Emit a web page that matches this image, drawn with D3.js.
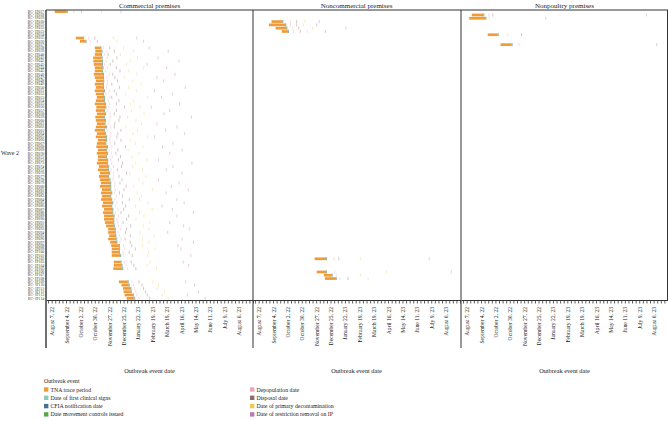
<!DOCTYPE html>
<html>
<head>
<meta charset="utf-8">
<script src="https://cdn.jsdelivr.net/npm/d3@7"></script>
<style>
  body { margin: 0; background: #fff; }
  svg { display: block; }
  text { font-family: "Liberation Serif", "DejaVu Serif", serif; fill: #222; }
</style>
</head>
<body>
<script>
// facets
var panels = ["Commercial premises", "Noncommercial premises", "Nonpoultry premises"];
var panelCodes = ["C", "NC", "NP"];

var premisesId = [
  "BC- IP027","BC- IP028","BC- IP029","BC- IP030","BC- IP031","BC- IP032","BC- IP033","BC- IP034",
  "BC- IP035","BC- IP036","BC- IP037","BC- IP038","BC- IP039","BC- IP040","BC- IP041","BC- IP042",
  "BC- IP043","BC- IP044","BC- IP045","BC- IP046","BC- IP047","BC- IP048","BC- IP049","BC- IP050",
  "BC- IP051","BC- IP052","BC- IP053","BC- IP054","BC- IP055","BC- IP056","BC- IP057","BC- IP058",
  "BC- IP059","BC- IP060","BC- IP061","BC- IP062","BC- IP063","BC- IP064","BC- IP065","BC- IP066",
  "BC- IP067","BC- IP068","BC- IP069","BC- IP070","BC- IP071","BC- IP072","BC- IP073","BC- IP074",
  "BC- IP075","BC- IP076","BC- IP077","BC- IP078","BC- IP079","BC- IP080","BC- IP081","BC- IP082",
  "BC- IP083","BC- IP084","BC- IP085","BC- IP086","BC- IP087","BC- IP088","BC- IP089","BC- IP090",
  "BC- IP091","BC- IP092","BC- IP093","BC- IP094","BC- IP095","BC- IP096","BC- IP097","BC- IP098",
  "BC- IP099","BC- IP100","BC- IP101","BC- IP102","BC- IP103","BC- IP104","BC- IP105","BC- IP106",
  "BC- IP107","BC- IP108","BC- IP109","BC- IP110","BC- IP111","BC- IP112","BC- IP113","BC- IP114"
];

var premisesType = [
  "C","NP","NP","NC","NC","NC","NC","NP","C","C","NP",
  "C","C","C","C","C","C","C","C","C","C","C","C","C","C","C","C",
  "C","C","C","C","C","C","C","C","C","C","C","C","C","C","C","C",
  "C","C","C","C","C","C","C","C","C","C","C","C","C","C","C","C",
  "C","C","C","C","C","C","C","C","C","C","C","C","C","C","C","C",
  "NC","C","C","C","NC","NC","NC","C","C","C","C","C","C"
];

var tnaStart = [
  "2022-08-13","2022-08-17","2022-08-12","2022-09-01","2022-08-27","2022-09-09","2022-09-21","2022-09-17",
  "2022-09-23","2022-10-01","2022-10-12",
  "2022-10-30","2022-10-31","2022-10-30","2022-10-27","2022-10-27","2022-10-28","2022-10-30","2022-10-30",
  "2022-10-28","2022-10-30","2022-11-01","2022-10-30","2022-11-01","2022-10-30","2022-11-01","2022-11-03",
  "2022-11-01","2022-10-30","2022-11-02","2022-11-01","2022-11-03","2022-10-31","2022-11-01","2022-11-03",
  "2022-11-01","2022-10-30","2022-11-03","2022-11-01","2022-11-05","2022-11-03","2022-11-02","2022-11-05",
  "2022-11-03","2022-11-05","2022-11-05","2022-11-03","2022-11-07","2022-11-05","2022-11-09","2022-11-07",
  "2022-11-09","2022-11-11","2022-11-09","2022-11-13","2022-11-11","2022-11-13","2022-11-11","2022-11-15",
  "2022-11-13","2022-11-17","2022-11-15","2022-11-17","2022-11-17","2022-11-19","2022-11-21","2022-11-25",
  "2022-11-25","2022-11-27","2022-11-25","2022-11-29","2022-12-01","2022-12-02","2022-12-02","2022-12-02",
  "2022-11-24","2022-12-06","2022-12-06","2022-12-05","2022-11-28","2022-12-12","2022-12-14","2022-12-16",
  "2022-12-21","2022-12-24","2022-12-25","2022-12-27","2022-12-31"
];

var tnaEnd = [
  "2022-09-05","2022-09-08","2022-09-12","2022-09-22","2022-09-28","2022-09-30","2022-10-03","2022-10-06",
  "2022-10-07","2022-10-12","2022-11-02",
  "2022-11-10","2022-11-12","2022-11-11","2022-11-12","2022-11-13","2022-11-13","2022-11-14","2022-11-13",
  "2022-11-15","2022-11-15","2022-11-15","2022-11-15","2022-11-15","2022-11-17","2022-11-15","2022-11-17",
  "2022-11-17","2022-11-19","2022-11-19","2022-11-17","2022-11-19","2022-11-17","2022-11-19","2022-11-18",
  "2022-11-21","2022-11-17","2022-11-19","2022-11-21","2022-11-21","2022-11-19","2022-11-23","2022-11-21",
  "2022-11-23","2022-11-21","2022-11-23","2022-11-23","2022-11-25","2022-11-25","2022-11-27","2022-11-25",
  "2022-11-27","2022-11-29","2022-11-29","2022-11-29","2022-12-01","2022-11-29","2022-12-01","2022-12-03",
  "2022-12-01","2022-12-03","2022-12-03","2022-12-05","2022-12-05","2022-12-05","2022-12-06","2022-12-08",
  "2022-12-08","2022-12-09","2022-12-10","2022-12-11","2022-12-16","2022-12-16","2022-12-16","2022-12-18",
  "2022-12-16","2022-12-19","2022-12-21","2022-12-22","2022-12-16","2022-12-27","2023-01-04","2023-01-02",
  "2023-01-04","2023-01-07","2023-01-08","2023-01-12","2023-01-14"
];

var clinicalSigns = [
  "2022-09-05","2022-09-08","2022-09-12","2022-09-22","2022-09-28","2022-09-30","2022-10-03","2022-10-06",
  "2022-10-07","2022-10-12","2022-11-02",
  "2022-11-10","2022-11-12","2022-11-11","2022-11-12","2022-11-13","2022-11-13","2022-11-14","2022-11-13",
  "2022-11-15","2022-11-15","2022-11-15","2022-11-15","2022-11-15","2022-11-17","2022-11-15","2022-11-17",
  "2022-11-17","2022-11-19","2022-11-19","2022-11-17","2022-11-19","2022-11-17","2022-11-19","2022-11-18",
  "2022-11-21","2022-11-17","2022-11-19","2022-11-21","2022-11-21","2022-11-19","2022-11-23","2022-11-21",
  "2022-11-23","2022-11-21","2022-11-23","2022-11-23","2022-11-25","2022-11-25","2022-11-27","2022-11-25",
  "2022-11-27","2022-11-29","2022-11-29","2022-11-29","2022-12-01","2022-11-29","2022-12-01","2022-12-03",
  "2022-12-01","2022-12-03","2022-12-03","2022-12-05","2022-12-05","2022-12-05","2022-12-06","2022-12-08",
  "2022-12-08","2022-12-09","2022-12-10","2022-12-11","2022-12-16","2022-12-16","2022-12-16","2022-12-18",
  "2022-12-16","2022-12-19","2022-12-21","2022-12-22","2022-12-16","2022-12-27","2023-01-04","2023-01-02",
  "2023-01-04","2023-01-07","2023-01-08","2023-01-12","2023-01-14"
];

var cfiaNotification = [
  "2022-09-06","2022-09-09","2022-09-13","2022-09-23","2022-09-29","2022-10-01","2022-10-04","2022-10-07",
  "2022-10-08","2022-10-13","2022-11-03",
  "2022-11-11","2022-11-13","2022-11-12","2022-11-13","2022-11-14","2022-11-14","2022-11-15","2022-11-14",
  "2022-11-16","2022-11-16","2022-11-16","2022-11-16","2022-11-16","2022-11-18","2022-11-16","2022-11-18",
  "2022-11-18","2022-11-20","2022-11-20","2022-11-18","2022-11-20","2022-11-18","2022-11-20","2022-11-19",
  "2022-11-22","2022-11-18","2022-11-20","2022-11-22","2022-11-22","2022-11-20","2022-11-24","2022-11-22",
  "2022-11-24","2022-11-22","2022-11-24","2022-11-24","2022-11-26","2022-11-26","2022-11-28","2022-11-26",
  "2022-11-28","2022-11-30","2022-11-30","2022-11-30","2022-12-02","2022-11-30","2022-12-02","2022-12-04",
  "2022-12-02","2022-12-04","2022-12-04","2022-12-06","2022-12-06","2022-12-06","2022-12-07","2022-12-09",
  "2022-12-09","2022-12-10","2022-12-11","2022-12-12","2022-12-17","2022-12-17","2022-12-17","2022-12-19",
  "2022-12-17","2022-12-20","2022-12-22","2022-12-23","2022-12-17","2022-12-28","2023-01-05","2023-01-03",
  "2023-01-05","2023-01-08","2023-01-09","2023-01-13","2023-01-15"
];

var movementControls = [
  "2022-09-07","2022-09-10","2022-09-14","2022-09-23","2022-09-29","2022-10-01","2022-10-04","2022-10-08",
  "2022-10-09","2022-10-13","2022-11-04",
  "2022-11-11","2022-11-13","2022-11-12","2022-11-14","2022-11-14","2022-11-14","2022-11-15","2022-11-14",
  "2022-11-16","2022-11-16","2022-11-17","2022-11-16","2022-11-16","2022-11-18","2022-11-16","2022-11-18",
  "2022-11-18","2022-11-20","2022-11-21","2022-11-18","2022-11-20","2022-11-18","2022-11-20","2022-11-19",
  "2022-11-22","2022-11-18","2022-11-20","2022-11-22","2022-11-22","2022-11-21","2022-11-24","2022-11-22",
  "2022-11-24","2022-11-22","2022-11-24","2022-11-24","2022-11-26","2022-11-26","2022-11-28","2022-11-26",
  "2022-11-29","2022-11-30","2022-11-30","2022-11-30","2022-12-02","2022-11-30","2022-12-02","2022-12-04",
  "2022-12-02","2022-12-04","2022-12-04","2022-12-07","2022-12-06","2022-12-06","2022-12-07","2022-12-09",
  "2022-12-09","2022-12-10","2022-12-12","2022-12-12","2022-12-17","2022-12-17","2022-12-17","2022-12-19",
  "2022-12-17","2022-12-20","2022-12-22","2022-12-24","2022-12-17","2022-12-28","2023-01-05","2023-01-03",
  "2023-01-05","2023-01-09","2023-01-09","2023-01-13","2023-01-16"
];

var depopulation = [
  "2022-09-19","2022-09-19","2022-09-20","2022-10-08","2022-10-08","2022-10-12","2022-10-14","2022-10-26",
  "2022-10-18","2022-10-21","2022-11-17",
  "2022-11-16","2022-11-21","2022-11-18","2022-11-23","2022-11-21","2022-11-18","2022-11-24","2022-11-20",
  "2022-11-27","2022-11-21","2022-11-24","2022-11-23","2022-11-22","2022-11-27","2022-11-21","2022-11-28",
  "2022-11-25","2022-11-28","2022-11-26","2022-11-23","2022-11-29","2022-11-29","2022-11-27","2022-11-25",
  "2022-11-30","2022-11-23","2022-11-30","2022-11-29","2022-11-28","2022-11-29","2022-12-02","2022-11-27",
  "2022-12-01","2022-12-03","2022-11-30","2022-12-02","2022-12-05","2022-12-01","2022-12-05","2022-12-06",
  "2022-12-04","2022-12-08","2022-12-07","2022-12-09","2022-12-07","2022-12-11","2022-12-08","2022-12-12",
  "2022-12-09","2022-12-14","2022-12-09","2022-12-15","2022-12-12","2022-12-13","2022-12-15","2022-12-20",
  "2022-12-14","2022-12-17","2022-12-20","2022-12-18","2022-12-25","2022-12-27","2022-12-24","2022-12-25",
  "2023-01-01","2022-12-27","2022-12-30","2023-01-02","2023-01-02","2023-01-05","2023-01-12","2023-01-10",
  "2023-01-13","2023-01-15","2023-01-18","2023-01-20","2023-01-24"
];

var disposal = [
  "2022-10-04","2022-09-27",null,"2022-10-20","2022-10-20","2022-10-24","2022-10-27","2022-11-22",
  "2022-10-30","2022-11-04",null,
  "2022-11-28","2022-12-07","2022-11-25","2022-12-12","2022-12-04","2022-11-29","2022-12-11","2022-12-18",
  "2022-12-04","2022-12-08","2022-12-13","2022-12-02","2022-12-17","2022-12-07","2022-12-11","2022-12-02",
  "2022-12-16","2022-12-11","2022-12-27","2022-12-11","2022-12-07","2022-12-18","2022-12-16","2022-12-08",
  "2022-12-07","2022-12-20","2022-12-14","2022-12-12","2022-12-20","2022-12-08","2022-12-29","2022-12-14",
  "2022-12-10","2022-12-19","2022-12-15","2022-12-23","2022-12-21","2022-12-13","2022-12-31","2022-12-16",
  "2022-12-22","2022-12-18","2022-12-30","2022-12-26","2022-12-17","2022-12-23","2023-01-05","2022-12-23",
  "2022-12-29","2022-12-25","2022-12-20","2023-01-04","2022-12-31","2022-12-24","2023-01-08","2022-12-31",
  "2022-12-29","2023-01-07","2022-12-28","2023-01-07","2023-01-10","2023-01-17","2023-01-05","2023-01-11",
  "2023-01-10","2023-01-09","2023-01-14","2023-01-18",null,null,"2023-01-28","2023-01-24",
  "2023-01-30","2023-02-02","2023-02-06","2023-02-09","2023-02-14"
];

var primaryDecontamination = [
  "2022-11-12",null,null,"2022-11-05","2022-11-02","2022-11-20","2022-11-10",null,
  "2022-12-05","2022-12-12",null,
  "2022-12-25","2023-01-13","2022-12-19","2023-01-21","2023-01-07","2022-12-31","2023-02-02","2023-01-04",
  "2023-01-20","2022-12-26","2023-01-12","2023-01-28","2023-01-04","2023-01-19","2022-12-29","2023-02-10",
  "2023-01-13","2023-01-07","2023-01-26","2023-01-09","2023-02-03","2023-01-02","2023-01-18","2023-01-29",
  "2022-12-30","2023-01-21","2023-01-12","2023-02-10","2023-01-07","2023-01-17","2023-02-01","2023-01-03",
  "2023-01-24","2023-01-11","2023-02-08","2023-01-18","2023-01-12","2023-01-31","2023-01-06","2023-02-06",
  "2023-01-24","2023-02-01","2023-01-13","2023-02-19","2023-01-20","2023-01-29","2023-01-25","2023-02-10",
  "2023-01-17","2023-02-19","2023-01-25","2023-02-03","2023-01-18","2023-02-14","2023-02-01","2023-02-12",
  "2023-01-26","2023-02-22","2023-01-31","2023-02-12","2023-01-31","2023-02-24","2023-02-12","2023-02-10",
  "2023-02-21","2023-02-15","2023-02-09","2023-02-27","2023-04-13","2023-02-21","2023-03-08","2023-02-20",
  "2023-03-03","2023-02-28","2023-03-15","2023-03-10","2023-03-22"
];

var restrictionRemoval = [
  "2022-12-20","2023-07-23","2023-01-08","2022-12-03","2022-11-28","2023-01-24","2022-12-15",null,
  "2023-01-20","2023-02-02","2023-08-12",
  "2023-02-13","2023-03-22",null,"2023-03-02","2023-04-12","2023-02-09","2023-03-19",null,
  "2023-04-04","2023-02-28","2023-03-13",null,"2023-04-24","2023-02-23","2023-03-30","2023-03-09",
  null,"2023-04-13","2023-02-17","2023-03-25","2023-03-14","2023-05-06",null,"2023-02-28",
  "2023-04-08","2023-03-17","2023-04-23","2023-02-23",null,"2023-03-31","2023-03-11","2023-04-18",
  "2023-03-25",null,"2023-03-03","2023-05-07","2023-03-31","2023-03-18","2023-04-18",null,
  "2023-03-03","2023-04-12","2023-03-28","2023-04-30","2023-03-18",null,"2023-04-08","2023-04-22",
  "2023-03-10","2023-03-30","2023-05-10","2023-04-08",null,"2023-03-25","2023-04-21","2023-05-02",
  "2023-03-21",null,"2023-04-18","2023-05-10","2023-04-10","2023-04-16",null,"2023-05-05",
  "2023-07-05","2023-04-20","2023-05-01",null,"2023-08-17",null,null,"2023-04-25",
  "2023-05-12",null,"2023-05-20","2023-04-28","2023-06-02"
];

var xDomain = ["2022-07-27", "2023-09-03"];
var tickDates = ["2022-08-07","2022-09-04","2022-10-02","2022-10-30","2022-11-27","2022-12-25","2023-01-22",
                 "2023-02-19","2023-03-19","2023-04-16","2023-05-14","2023-06-11","2023-07-09","2023-08-06"];
var tickLabels = ["August 7, 22","September 4, 22","October 2, 22","October 30, 22","November 27, 22",
                  "December 25, 22","January 22, 23","February 19, 23","March 19, 23","April 16, 23",
                  "May 14, 23","June 11, 23","July 9, 23","August 6, 23"];

var legendNames = ["TNA trace period","Date of first clinical signs","CFIA notification date",
                   "Date movement controls issued","Depopulation date","Disposal date",
                   "Date of primary decontamination","Date of restriction removal on IP"];
var legendColors = ["#ef9b38","#8ec8b8","#4a6d9c","#55a84c","#e9a6b4","#8a706c","#efc85a","#b67bb6"];

var eventSeries = [clinicalSigns, cfiaNotification, movementControls, depopulation,
                   disposal, primaryDecontamination, restrictionRemoval];

// layout
var panelLeft = [46, 253, 461], panelW = 207;
var plotTop = 10, plotBottom = 300, frameBottom = 348;
var parse = d3.timeParse("%Y-%m-%d");

var svg = d3.select("body").append("svg").attr("width", 668).attr("height", 421);

var x = d3.scaleTime().domain(xDomain.map(parse)).range([0, panelW]);
var y = d3.scaleBand().domain(premisesId).range([plotTop, plotBottom]).paddingInner(0.18).paddingOuter(0.1);

var labelByTime = new Map(tickDates.map(function(d, i) { return [+parse(d), tickLabels[i]]; }));
var weeks = x.ticks(d3.timeWeek.every(1));

// y labels (shared)
svg.append("g").selectAll("text").data(premisesId).join("text")
  .attr("x", 44.2).attr("y", function(d) { return y(d) + y.bandwidth() / 2; })
  .attr("dy", "0.35em").attr("text-anchor", "end")
  .style("font-size", "3.5px").style("letter-spacing", "0.15px").style("fill", "#333")
  .text(function(d) { return d; });

svg.append("text").attr("x", 1).attr("y", 153).attr("dy", "0.35em")
  .style("font-size", "6px").text("Wave 2");

panels.forEach(function(title, p) {
  var g = svg.append("g").attr("transform", "translate(" + panelLeft[p] + ",0)");
  var rows = d3.range(premisesId.length).filter(function(i) { return premisesType[i] === panelCodes[p]; });

  // event markers
  eventSeries.forEach(function(arr, k) {
    g.selectAll(null).data(rows.filter(function(i) { return arr[i]; })).join("line")
      .attr("x1", function(i) { return x(parse(arr[i])); })
      .attr("x2", function(i) { return x(parse(arr[i])); })
      .attr("y1", function(i) { return y(premisesId[i]) - 0.2; })
      .attr("y2", function(i) { return y(premisesId[i]) + y.bandwidth() + 0.2; })
      .attr("stroke", legendColors[k + 1]).attr("stroke-width", 0.55).attr("stroke-opacity", 0.7);
  });

  // TNA bars
  g.selectAll("rect.tna").data(rows).join("rect").attr("class", "tna")
    .attr("x", function(i) { return x(parse(tnaStart[i])); })
    .attr("width", function(i) { return x(parse(tnaEnd[i])) - x(parse(tnaStart[i])); })
    .attr("y", function(i) { return y(premisesId[i]); })
    .attr("height", y.bandwidth())
    .attr("fill", legendColors[0]);

  // bottom axis
  var ax = g.append("g").attr("transform", "translate(0," + plotBottom + ")")
    .call(d3.axisBottom(x).tickValues(weeks).tickSize(3.5).tickSizeOuter(0)
      .tickFormat(function(d) { return labelByTime.get(+d) || ""; }));
  ax.select(".domain").attr("stroke", "#333").attr("stroke-width", 1);
  ax.selectAll(".tick line").attr("stroke", "#333").attr("stroke-width", 0.8);
  ax.selectAll("text")
    .attr("transform", "rotate(-90)").attr("text-anchor", "end")
    .attr("x", -7).attr("y", 0).attr("dy", "0.35em")
    .style("font-size", "5.6px").style("font-family", "Liberation Serif, serif").style("fill", "#222");

  g.append("text").attr("x", panelW / 2).attr("y", 7.5).attr("text-anchor", "middle")
    .style("font-size", "7px").text(title);

  g.append("text").attr("x", panelW / 2).attr("y", 373).attr("text-anchor", "middle")
    .style("font-size", "6.3px").text("Outbreak event date");
});

// frame lines
svg.append("line").attr("x1", 46).attr("x2", 668).attr("y1", plotTop).attr("y2", plotTop)
  .attr("stroke", "#333").attr("stroke-width", 1);
[46, 253, 461].forEach(function(px, i) {
  svg.append("line").attr("x1", px).attr("x2", px).attr("y1", plotTop).attr("y2", frameBottom)
    .attr("stroke", "#333").attr("stroke-width", i === 0 ? 1.4 : 1);
});
svg.append("line").attr("x1", 667.5).attr("x2", 667.5).attr("y1", plotTop).attr("y2", plotBottom)
  .attr("stroke", "#333").attr("stroke-width", 1);

// y ticks
svg.append("g").selectAll("line").data(premisesId).join("line")
  .attr("x1", 44.6).attr("x2", 46)
  .attr("y1", function(d) { return y(d) + y.bandwidth() / 2; })
  .attr("y2", function(d) { return y(d) + y.bandwidth() / 2; })
  .attr("stroke", "#555").attr("stroke-width", 0.4);

// legend
var lg = svg.append("g");
lg.append("text").attr("x", 44).attr("y", 381).attr("dy", "0.35em")
  .style("font-size", "5.8px").text("Outbreak event");
var legendCols = [44, 250], legendRow0 = 389.5, legendStep = 8.3;
legendNames.forEach(function(name, i) {
  var cx = legendCols[Math.floor(i / 4)], cy = legendRow0 + (i % 4) * legendStep;
  lg.append("rect").attr("x", cx).attr("y", cy - 2.2).attr("width", 4.4).attr("height", 4.4)
    .attr("fill", legendColors[i]);
  lg.append("text").attr("x", cx + 6.5).attr("y", cy).attr("dy", "0.35em")
    .style("font-size", "5.8px").text(name);
});
</script>
</body>
</html>
